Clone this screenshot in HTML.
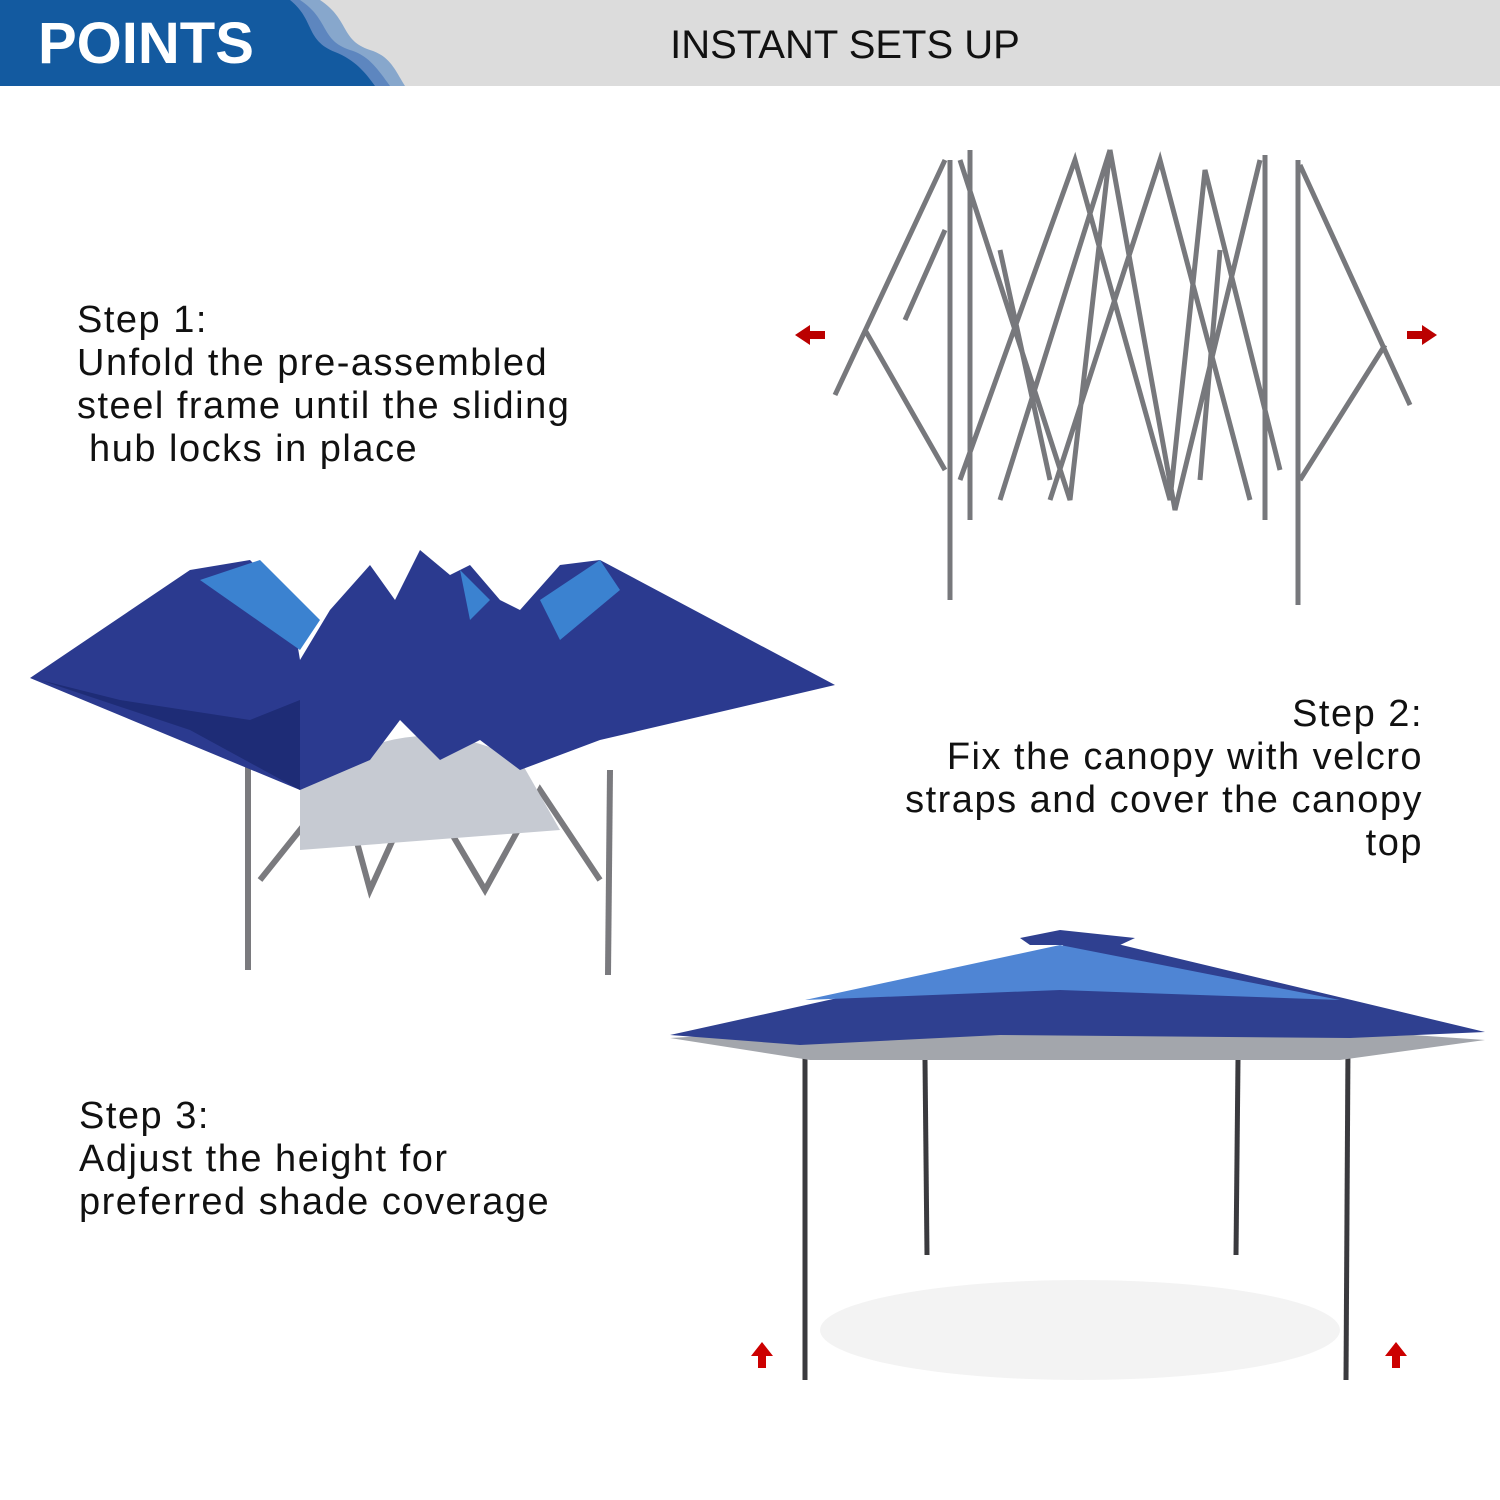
<!DOCTYPE html>
<html><head><style>
body{margin:0;width:1500px;height:1500px;background:#fff;position:relative;overflow:hidden;font-family:"Liberation Sans",sans-serif}
.t{position:absolute;font-size:38px;line-height:43px;color:#111;letter-spacing:1.5px}
</style></head><body>
<svg width="1500" height="1500" style="position:absolute;left:0;top:0">
<rect x="0" y="0" width="1500" height="86" fill="#dcdcdc"/>
<path d="M0 0 H320 C350 20 340 40 370 50 C390 56 395 70 405 86 H0Z" fill="#87a7cc"/>
<path d="M0 0 H300 C330 20 320 40 350 50 C370 56 378 70 390 86 H0Z" fill="#5d86bf"/>
<path d="M0 0 H290 C315 20 305 40 335 52 C355 60 365 72 375 86 H0Z" fill="#135aa0"/>
<text x="38" y="63" font-family="Liberation Sans" font-weight="bold" font-size="58" fill="#fff">POINTS</text>
<text x="845" y="58" font-family="Liberation Sans" font-size="40" fill="#111" text-anchor="middle">INSTANT SETS UP</text>
<g stroke="#77787c" stroke-width="5" fill="none">
<line x1="950" y1="160" x2="950" y2="600"/><line x1="1298" y1="160" x2="1298" y2="605"/>
<line x1="970" y1="150" x2="970" y2="520"/><line x1="1265" y1="155" x2="1265" y2="520"/>
<path d="M835 395 L945 160 M865 330 L945 470 M905 320 L945 230 M1410 405 L1300 165 M1385 345 L1300 480"/>
<path d="M960 160 L1070 500 L1110 150 L1175 510 L1260 160 M960 480 L1075 160 L1170 500 L1205 170 L1280 470 M1000 500 L1110 150 M1050 500 L1160 160 L1250 500 M1000 250 L1050 480 M1220 250 L1200 480"/>
</g>
<g fill="#b00"><path d="M795 335 l15 -10 v6 h15 v8 h-15 v6z"/><path d="M1437 335 l-15 -10 v6 h-15 v8 h15 v6z"/></g>
<g stroke="#7a7a7e" stroke-width="6" fill="none"><line x1="248" y1="760" x2="248" y2="970"/><line x1="610" y1="770" x2="608" y2="975"/><path d="M260 880 L340 780 L370 890 L420 780 L485 890 L540 790 L600 880"/></g>
<path d="M300 790 Q400 700 520 760 L560 830 L300 850Z" fill="#c6cad2"/>
<path d="M30 678 L190 570 L250 560 L290 600 L300 660 L330 610 L370 565 L395 600 L420 550 L450 575 L470 565 L500 600 L520 610 L560 565 L600 560 L835 685 L600 740 L520 770 L480 740 L440 760 L400 720 L370 760 L300 790 Z" fill="#2b3a8f"/>
<path d="M200 580 L260 560 L320 620 L300 650Z M460 570 L490 600 L470 620Z M540 600 L600 560 L620 590 L560 640Z" fill="#3b82d0"/>
<path d="M40 680 L120 700 L250 720 L300 700 L300 790 L190 730Z" fill="#1e2c76"/>
<ellipse cx="1080" cy="1330" rx="260" ry="50" fill="#f3f3f3"/>
<g stroke="#3a3a3e" stroke-width="5"><line x1="805" y1="1045" x2="805" y2="1380"/><line x1="1348" y1="1045" x2="1346" y2="1380"/><line x1="925" y1="1060" x2="927" y2="1255"/><line x1="1238" y1="1060" x2="1236" y2="1255"/></g>
<path d="M670 1038 L810 1060 L1340 1060 L1485 1040 L1340 1030 L810 1030Z" fill="#a3a6ac"/>
<path d="M670 1035 L1055 950 L1080 935 L1485 1032 L1350 1038 L1000 1035 L800 1045Z" fill="#2f4090"/>
<path d="M805 1000 L1060 945 L1340 1000 L1060 990Z" fill="#4f85d4"/>
<path d="M1020 938 L1060 930 L1135 938 L1120 945 L1030 945Z" fill="#2f4090"/>
<g fill="#c00"><path d="M762 1342 l-11 14 h7 v12 h8 v-12 h7z"/><path d="M1396 1342 l-11 14 h7 v12 h8 v-12 h7z"/></g>
</svg>
<div class="t" style="left:77px;top:299px">Step 1:<br>Unfold the pre-assembled<br>steel frame until the sliding<br>&nbsp;hub locks in place</div>
<div class="t" style="right:77px;top:693px;text-align:right">Step 2:<br>Fix the canopy with velcro<br>straps and cover the canopy<br>top</div>
<div class="t" style="left:79px;top:1095px">Step 3:<br>Adjust the height for<br>preferred shade coverage</div>
</body></html>
